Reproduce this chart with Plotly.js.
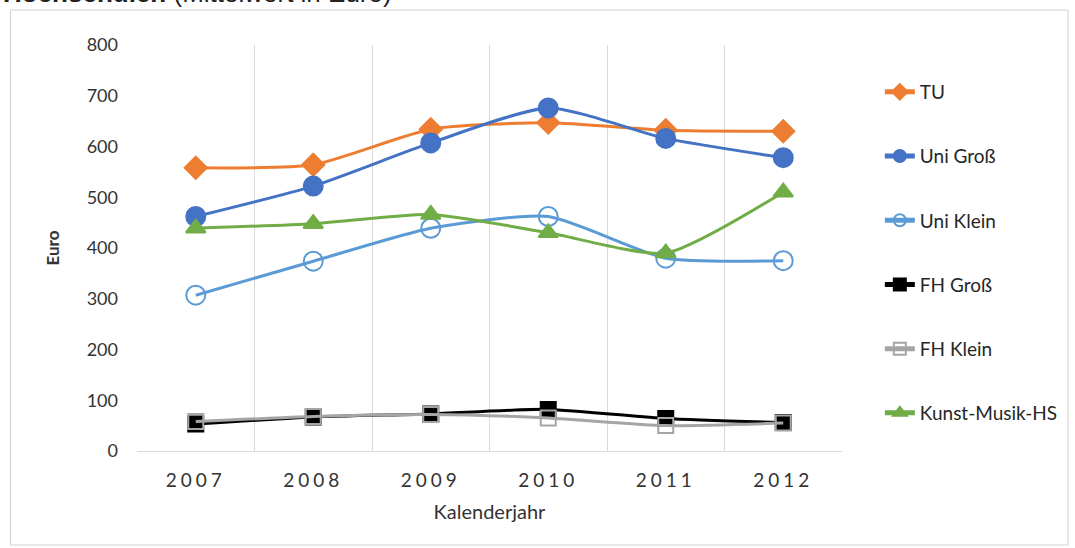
<!DOCTYPE html>
<html>
<head>
<meta charset="utf-8">
<script src="https://cdn.plot.ly/plotly-3.0.1.min.js"></script>
<style>
html, body { margin: 0; padding: 0; background: #fff; }
#chart { width: 1075px; height: 548px; }
.xaxislayer-above .xtick text { letter-spacing: 4px; }
</style>
</head>
<body>
<div id="chart"></div>
<script>
const years = ['2007', '2008', '2009', '2010', '2011', '2012'];
const seriesNames = ['TU', 'Uni Groß', 'Uni Klein', 'FH Groß', 'FH Klein', 'Kunst-Musik-HS'];
const tu = [558, 564, 634, 647, 632, 630];
const uniGross = [462, 522, 607, 676, 616, 578];
const uniKlein = [307, 374, 439, 462, 380, 375];
const fhGross = [53, 67, 73, 82, 64, 56];
const fhKlein = [58, 68, 72, 65, 50, 55];
const kunst = [439, 448, 466, 430, 390, 510];
const yTicks = [0, 100, 200, 300, 400, 500, 600, 700, 800];

const styles = [
  {color: '#ED7D31', symbol: 'diamond', size: 17, fill: '#ED7D31'},
  {color: '#4472C4', symbol: 'circle', size: 19, fill: '#4472C4'},
  {color: '#5B9BD5', symbol: 'circle-open', size: 19, fill: '#5B9BD5'},
  {color: '#000000', symbol: 'square', size: 15, fill: '#000000'},
  {color: '#A5A5A5', symbol: 'square-open', size: 15, fill: '#A5A5A5'},
  {color: '#70AD47', symbol: 'triangle-up', size: 17, fill: '#70AD47'}
];
const values = [tu, uniGross, uniKlein, fhGross, fhKlein, kunst];

const traces = values.map((v, i) => ({
  x: years,
  y: v,
  name: seriesNames[i],
  legendgroup: 'g' + i,
  type: 'scatter',
  mode: 'lines+markers',
  line: {color: styles[i].color, width: 3, shape: 'spline', smoothing: 0.6},
  marker: {symbol: styles[i].symbol, size: styles[i].size, color: styles[i].fill,
           line: {color: styles[i].color, width: 2}},
  hoverinfo: 'x+y+name'
}));

const W = 1075, H = 548;
const L = 137, R = 845, T = 45, B = 451;
const px = x => (x - L) / (R - L);
const py = y => (B - y) / (B - T);

const layout = {
  width: W, height: H,
  margin: {l: L, r: W - R, t: T, b: H - B},
  paper_bgcolor: '#ffffff',
  plot_bgcolor: '#ffffff',
  font: {family: 'Lato, "Open Sans", sans-serif', color: '#333333'},
  showlegend: true,
  legend: {
    x: px(883), xanchor: 'left', y: py(73), yanchor: 'top',
    font: {size: 19, color: '#262626'},
    traceorder: 'grouped', tracegroupgap: 36.5, itemsizing: 'constant',
    bgcolor: 'rgba(0,0,0,0)'
  },
  xaxis: {
    type: 'category',
    range: [-0.5, 5.5],
    tickson: 'boundaries',
    showgrid: true, gridcolor: '#d9d9d9', gridwidth: 1,
    showline: true, linecolor: '#d9d9d9', linewidth: 1,
    ticks: '', ticklabelstandoff: 12,
    tickfont: {size: 19, color: '#333333'},
    title: {text: 'Kalenderjahr', font: {size: 20, color: '#333333'}, standoff: 15},
    zeroline: false, automargin: false
  },
  yaxis: {
    range: [0, 800],
    tickvals: yTicks,
    ticktext: yTicks.map(String),
    showgrid: false, zeroline: false,
    showline: false, ticks: '', ticklabelstandoff: 18,
    tickfont: {size: 18, color: '#333333'},
    title: {text: '<b>Euro</b>', font: {size: 17, color: '#333333'}, standoff: 22},
    automargin: false
  },
  shapes: [{
    type: 'rect', xref: 'paper', yref: 'paper',
    x0: px(10), x1: px(1072), y0: py(545), y1: py(10),
    line: {color: '#d0d0d0', width: 1}, fillcolor: 'rgba(0,0,0,0)', layer: 'below'
  }],
  annotations: [{
    xref: 'paper', yref: 'paper', x: px(0), y: py(10),
    xanchor: 'left', yanchor: 'bottom', showarrow: false,
    text: '<b>Hochschulen</b> (Mittelwert in Euro)',
    font: {family: '"Liberation Sans", Arial, sans-serif', size: 26, color: '#222222'}
  }]
};

Plotly.newPlot('chart', traces, layout, {displayModeBar: false, staticPlot: true});
</script>
</body>
</html>
